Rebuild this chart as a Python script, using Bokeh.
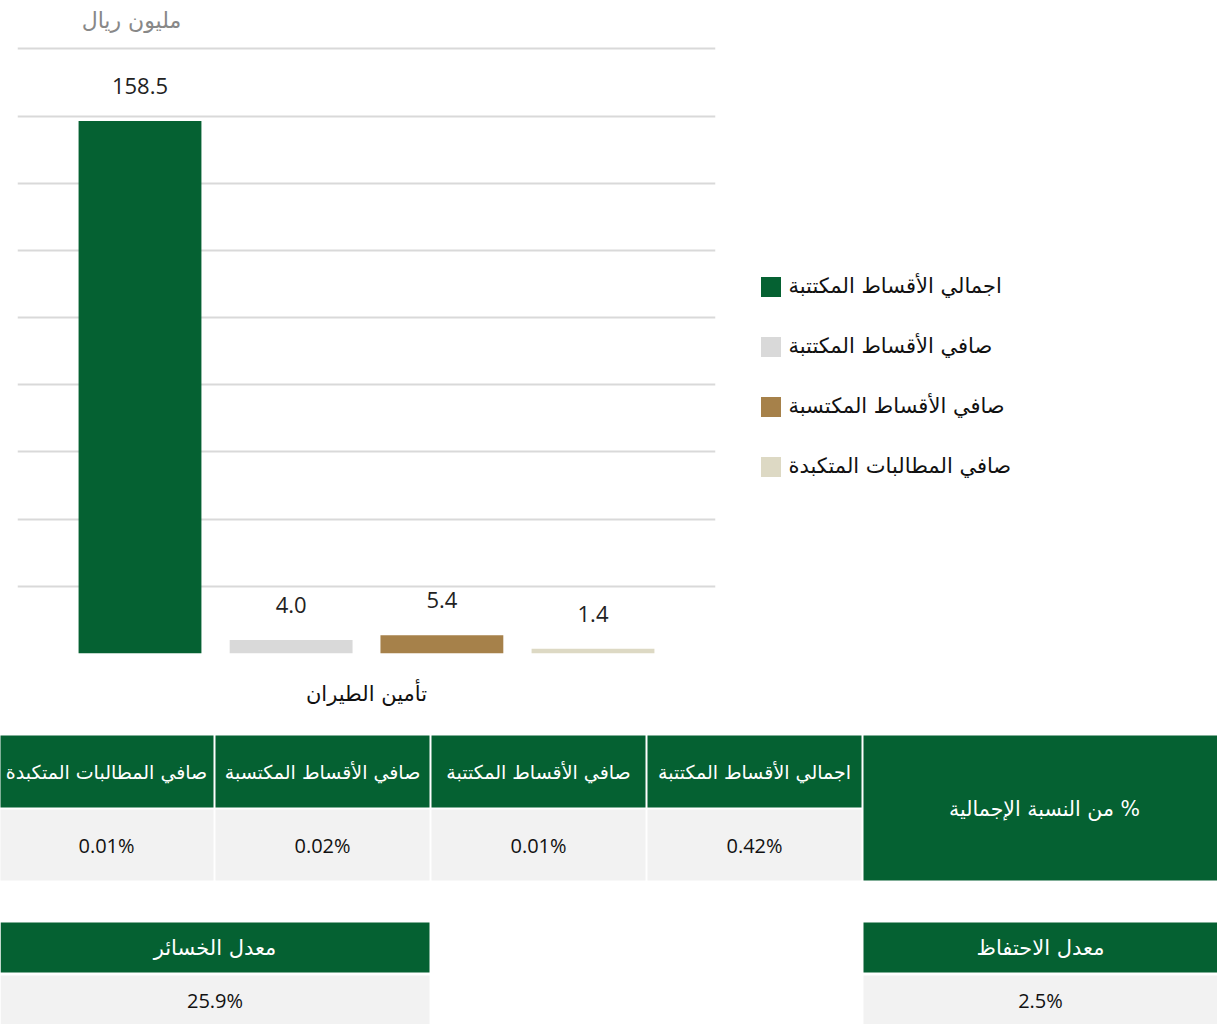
from bokeh.plotting import figure
from bokeh.models import FactorRange, Range1d, Legend, LegendItem, ColumnDataSource, FixedTicker
from bokeh.transform import dodge
from bokeh.layouts import column
from bokeh.embed import file_html
from bokeh.resources import INLINE
from bokeh.core.properties import value

# ---------------- data ----------------
category = ["تأمين الطيران"]
series = ["اجمالي الأقساط المكتتبة", "صافي الأقساط المكتتبة",
          "صافي الأقساط المكتسبة", "صافي المطالبات المتكبدة"]
amounts = [158.5, 4.0, 5.4, 1.4]
shares = ["0.42%", "0.01%", "0.02%", "0.01%"]
share_title = "% من النسبة الإجمالية"
unit_label = "مليون ريال"
y_ticks = [0, 20, 40, 60, 80, 100, 120, 140, 160, 180]
ratio_names = ["معدل الخسائر", "معدل الاحتفاظ"]
ratio_values = ["25.9%", "2.5%"]

colors = ["#056132", "#D9D9D9", "#A6814A", "#DDD9C4"]
GREEN = "#056132"
CELL = "#F2F2F2"
AR_FONT = "DejaVu Sans"
NUM_FONT = "Open Sans"
RLM = "\u200f"  # right-to-left mark so a leading "%" sits at the right

# ---------------- unit label strip ----------------
h = figure(width=1217, height=45, x_range=Range1d(0, 1217), y_range=Range1d(45, 0),
           output_backend="svg", toolbar_location=None, min_border=0,
           x_axis_type=None, y_axis_type=None)
h.grid.visible = False
h.outline_line_color = None
h.text(x=[131], y=[20], text=[unit_label], text_align="center", text_baseline="middle",
       text_font=value(AR_FONT), text_font_size="22px", text_color="#888888")

# ---------------- chart ----------------
p = figure(x_range=FactorRange(factors=category, range_padding=0),
           y_range=Range1d(0, 181), frame_width=698, frame_height=608,
           output_backend="svg", toolbar_location=None,
           min_border_left=17, min_border_right=0,
           min_border_top=0, min_border_bottom=63)

offsets = [-0.3245, -0.108, 0.108, 0.3245]
items = []
for i, (name, amt) in enumerate(zip(series, amounts)):
    src = ColumnDataSource(dict(x=category, top=[amt], lab=[f"{amt:.1f}"]))
    r = p.vbar(x=dodge("x", offsets[i], range=p.x_range), top="top", bottom=0,
               width=0.176, source=src, fill_color=colors[i], line_color=None)
    p.text(x=dodge("x", offsets[i], range=p.x_range), y="top", text="lab", source=src,
           y_offset=-35, text_align="center", text_baseline="middle",
           text_font=value(NUM_FONT), text_font_size="22px", text_color="#222222")
    items.append(LegendItem(label=name, renderers=[r]))

legend = Legend(items=items, location=(42.5, 174.5), orientation="vertical",
                glyph_width=25, glyph_height=25, label_height=20, spacing=35,
                padding=0, margin=0, label_standoff=6,
                border_line_color=None, background_fill_alpha=0,
                label_text_font=AR_FONT, label_text_font_size="21px",
                label_text_color="#111111")
p.add_layout(legend, "right")

p.yaxis.visible = False
p.yaxis.ticker = FixedTicker(ticks=y_ticks)
p.ygrid.grid_line_color = "#D9D9D9"
p.ygrid.grid_line_width = 2
p.xgrid.visible = False
p.outline_line_color = None
p.xaxis.axis_line_color = None
p.xaxis.major_tick_line_color = None
p.xaxis.major_tick_out = 0
p.xaxis.major_label_standoff = 28
p.xaxis.major_label_text_font = AR_FONT
p.xaxis.major_label_text_font_size = "21px"
p.xaxis.major_label_text_color = "#111111"

# ---------------- tables ----------------
t = figure(width=1217, height=308, x_range=Range1d(0, 1217), y_range=Range1d(1024, 716),
           output_backend="svg", toolbar_location=None, min_border=0,
           x_axis_type=None, y_axis_type=None)
t.grid.visible = False
t.outline_line_color = None

for fig in (h, p, t):
    if "frame_align" in fig.properties():
        fig.frame_align = False

# table 1
lefts = [647 - 216 * i for i in range(len(series))]
rights = [l + 214 for l in lefts]
cx = [(l + r) / 2 for l, r in zip(lefts, rights)]
t.quad(left=lefts, right=rights, top=[735] * 4, bottom=[807] * 4, fill_color=GREEN, line_color=None)
t.quad(left=lefts, right=rights, top=[809] * 4, bottom=[880] * 4, fill_color=CELL, line_color=None)
t.quad(left=[863], right=[1217], top=[735], bottom=[880], fill_color=GREEN, line_color=None)
t.text(x=cx, y=[771] * 4, text=series, text_align="center", text_baseline="middle",
       text_font=value(AR_FONT), text_font_size="19px", text_color="white")
t.text(x=cx, y=[845] * 4, text=shares, text_align="center", text_baseline="middle",
       text_font=value(NUM_FONT), text_font_size="20px", text_color="#111111")
t.text(x=[1044], y=[808], text=[RLM + share_title], text_align="center", text_baseline="middle",
       text_font=value(AR_FONT), text_font_size="20.5px", text_color="white")

# table 2
l2 = [0, 863]
r2 = [429, 1217]
c2 = [(a + b) / 2 for a, b in zip(l2, r2)]
t.quad(left=l2, right=r2, top=[922] * 2, bottom=[972] * 2, fill_color=GREEN, line_color=None)
t.quad(left=l2, right=r2, top=[975] * 2, bottom=[1024] * 2, fill_color=CELL, line_color=None)
t.text(x=c2, y=[947] * 2, text=ratio_names, text_align="center", text_baseline="middle",
       text_font=value(AR_FONT), text_font_size="21px", text_color="white")
t.text(x=c2, y=[1000] * 2, text=ratio_values, text_align="center", text_baseline="middle",
       text_font=value(NUM_FONT), text_font_size="20px", text_color="#111111")

layout = column(h, p, t, spacing=0)
open("out.html", "w").write(file_html(layout, INLINE))
